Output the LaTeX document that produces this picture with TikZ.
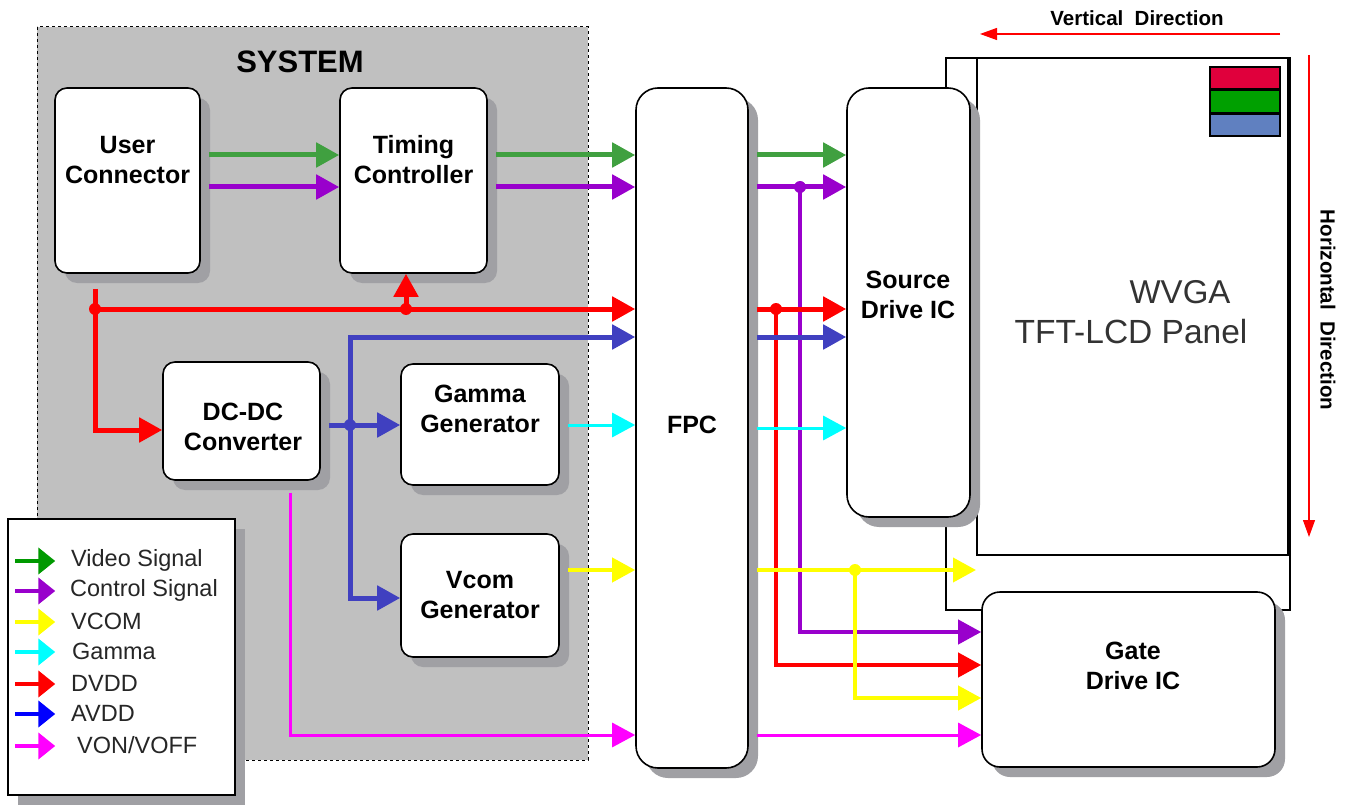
\documentclass[tikz,border=0pt]{standalone}
\usepackage{fontspec}
\setmainfont{Liberation Sans}
\usepackage{tikz}
\usetikzlibrary{arrows.meta,shadows,positioning}
\definecolor{sysgray}{HTML}{C0C0C0}
\definecolor{shgray}{HTML}{A0A0A4}
\definecolor{vidgreen}{HTML}{40A040}
\definecolor{leggreen}{HTML}{009900}
\definecolor{ctlpurple}{HTML}{9900CC}
\definecolor{avddblue}{HTML}{4040C0}
\definecolor{legblue}{HTML}{0000FF}
\definecolor{dvddred}{HTML}{FF0000}
\definecolor{gamcyan}{HTML}{00FFFF}
\definecolor{vcomyellow}{HTML}{FFFF00}
\definecolor{vonmag}{HTML}{FF00FF}
\definecolor{rgbred}{HTML}{E0003C}
\definecolor{rgbgreen}{HTML}{00A000}
\definecolor{rgbblue}{HTML}{6080C0}
\tikzset{>={Triangle[length=23pt,width=24pt]},
  blk/.style={draw, line width=1.6pt, fill=white, rounded corners=12pt, inner sep=0pt,
    drop shadow={shadow xshift=10pt, shadow yshift=-10pt, fill=shgray, opacity=1}},
  lbl/.style={font=\fontsize{25}{30}\selectfont\bfseries, align=center},
  bigsig/.style={line width=5pt, ->},
  midsig/.style={line width=4pt, ->},
  smallsig/.style={line width=3pt, ->},
  offbox/.style={shorten <=8pt},
  dot/.style={circle, inner sep=0pt, minimum size=12pt},
  rgbcell/.style={draw, line width=1.5pt, minimum width=70pt, minimum height=22pt, inner sep=0pt},
  legtxt/.style={font=\fontsize{23.5}{28}\selectfont, text=black!85, inner sep=0pt, anchor=west},
  legsig/.style={line width=4.5pt, -{Triangle[length=17pt,width=26pt]}},
  dirtxt/.style={font=\fontsize{20.5}{24}\selectfont\bfseries},
  dirsig/.style={dvddred, line width=1.2pt, -{Triangle[length=17pt,width=12pt]}}
}
\begin{document}
\begin{tikzpicture}[x=1pt,y=-1pt]
  \path[fill=white] (0,0) rectangle (1355,805);
  \useasboundingbox (0,0) rectangle (1355,805);
  \draw[dashed, line width=1pt, fill=sysgray] (37,27) rectangle (588,760);
  \node[font=\fontsize{31}{36}\selectfont\bfseries] (sys) at (300,62) {SYSTEM};

  \node[draw, line width=1.5pt, minimum width=344pt, minimum height=552pt, inner sep=0pt] (pnlo) at (1118,334) {};
  \node[draw, line width=2pt, fill=white, minimum width=311pt, minimum height=497pt, inner sep=0pt] (pnl) at (1132.5,306.5) {};
  \node[rgbcell, fill=rgbred] (pr) at (1245,78) {};
  \node[rgbcell, fill=rgbgreen, below=0pt of pr] (pg) {};
  \node[rgbcell, fill=rgbblue, below=0pt of pg] (pb) {};
  \node[font=\fontsize{33}{38}\selectfont, text=black!80] (wvga) at (1180,292) {WVGA};
  \node[font=\fontsize{33.5}{38}\selectfont, text=black!80] (tft) at (1131,332) {TFT-LCD Panel};

  \node[blk, minimum width=145pt, minimum height=185pt] (uc) at (127.5,180.5) {};
  \node[lbl] (uct) at (127.5,160) {User\\Connector};
  \node[blk, minimum width=147pt, minimum height=185pt] (tc) at (413.5,180.5) {};
  \node[lbl] (tct) at (413.5,160) {Timing\\Controller};
  \node[blk, minimum width=157pt, minimum height=118pt] (dc) at (241.5,421) {};
  \node[lbl] (dct) at (243,427) {DC-DC\\Converter};
  \node[blk, minimum width=158pt, minimum height=121pt] (gg) at (480,424.5) {};
  \node[lbl] (ggt) at (480,409) {Gamma\\Generator};
  \node[blk, minimum width=158pt, minimum height=123pt] (vg) at (480,595.5) {};
  \node[lbl] (vgt) at (480,595) {Vcom\\Generator};
  \node[blk, rounded corners=22pt, minimum width=112pt, minimum height=680pt] (fpc) at (692,428) {};
  \node[lbl] (fpct) at (692,425) {FPC};
  \node[blk, rounded corners=22pt, minimum width=123pt, minimum height=429pt] (sd) at (908.5,302.5) {};
  \node[lbl] (sdt) at (908,295) {Source\\Drive IC};
  \node[blk, rounded corners=18pt, minimum width=293pt, minimum height=175pt] (gd) at (1128.5,679.5) {};
  \node[lbl] (gdt) at (1133,666) {Gate\\Drive IC};

  \draw[bigsig, vidgreen, offbox] (uc.east |- 0,155) -- (tc.west |- 0,155);
  \draw[bigsig, vidgreen, offbox] (tc.east |- 0,155) -- (fpc.west |- 0,155);
  \draw[bigsig, vidgreen, offbox] (fpc.east |- 0,155) -- (sd.west |- 0,155);
  \draw[bigsig, ctlpurple, offbox] (uc.east |- 0,187) -- (tc.west |- 0,187);
  \draw[bigsig, ctlpurple, offbox] (tc.east |- 0,187) -- (fpc.west |- 0,187);
  \draw[bigsig, ctlpurple, offbox] (fpc.east |- 0,187) -- (sd.west |- 0,187);
  \node[dot, fill=ctlpurple] (pj) at (800,187) {};
  \draw[midsig, ctlpurple] (pj.center) |- (gd.west |- 0,632);

  \node[dot, fill=dvddred] (rj1) at (95,309) {};
  \node[dot, fill=dvddred] (rj2) at (406,309) {};
  \node[dot, fill=dvddred] (rj3) at (776,309) {};
  \draw[bigsig, dvddred, shorten <=15pt] (uc.south -| rj1) |- (dc.west |- 0,430);
  \draw[bigsig, dvddred] (rj1.center) -- (fpc.west |- rj1);
  \draw[bigsig, dvddred] (rj2.center) -- (tc.south -| rj2);
  \draw[bigsig, dvddred, offbox] (fpc.east |- rj1) -- (sd.west |- rj1);
  \draw[midsig, dvddred] (rj3.center) |- (gd.west |- 0,665);

  \coordinate (bt) at (350,337);
  \node[dot, fill=avddblue] (bj) at (350,425) {};
  \draw[bigsig, avddblue, offbox] (dc.east |- bj) -- (gg.west |- bj);
  \draw[bigsig, avddblue, line cap=rect] (bt) |- (vg.west |- 0,598);
  \draw[bigsig, avddblue, line cap=rect] (bt) -- (fpc.west |- bt);
  \draw[bigsig, avddblue, offbox] (fpc.east |- bt) -- (sd.west |- bt);

  \draw[smallsig, gamcyan, offbox] (gg.east |- 0,425) -- (fpc.west |- 0,425);
  \draw[smallsig, gamcyan, offbox] (fpc.east |- 0,428) -- (sd.west |- 0,428);

  \node[dot, fill=vcomyellow] (yj) at (855,570) {};
  \draw[midsig, vcomyellow, offbox] (vg.east |- 0,570) -- (fpc.west |- 0,570);
  \draw[midsig, vcomyellow, offbox] (fpc.east |- 0,570) -- (pnl.west |- 0,570);
  \draw[midsig, vcomyellow] (yj.center) |- (gd.west |- 0,698);

  \draw[smallsig, vonmag, shorten <=12pt] (dc.south -| 290,0) |- (fpc.west |- 0,735);
  \draw[smallsig, vonmag, offbox] (fpc.east |- 0,735) -- (gd.west |- 0,735);

  \node[dirtxt] (vdir) at (1137,18) {Vertical\ \ Direction};
  \coordinate (va) at (1280,34);
  \coordinate (vb) at (980,34);
  \draw[dirsig] (va) -- (vb);
  \node[dirtxt, rotate=-90] (hdir) at (1328,310) {Horizontal\ \ Direction};
  \coordinate (ha) at (1309,55);
  \coordinate (hb) at (1309,537);
  \draw[dirsig] (ha) -- (hb);

  \node[draw, line width=1.5pt, fill=white, minimum width=227pt, minimum height=276pt, inner sep=0pt,
    drop shadow={shadow xshift=10pt, shadow yshift=-10pt, fill=shgray, opacity=1}] (leg) at (121.5,657) {};
  \foreach \y/\x/\c/\t [count=\i] in {561/71/leggreen/{Video Signal}, 591/70/ctlpurple/{Control Signal},
      622/71/vcomyellow/{VCOM}, 652/72/gamcyan/{Gamma}, 684/71/dvddred/{DVDD},
      714/71/legblue/{AVDD}, 746/77/vonmag/{VON/VOFF}} {
    \node[legtxt] (lt\i) at (\x,\y-1) {\t};
    \draw[legsig, \c] ([xshift=8pt]leg.west |- 0,\y) -- ++(40,0);
  }
\end{tikzpicture}
\end{document}
